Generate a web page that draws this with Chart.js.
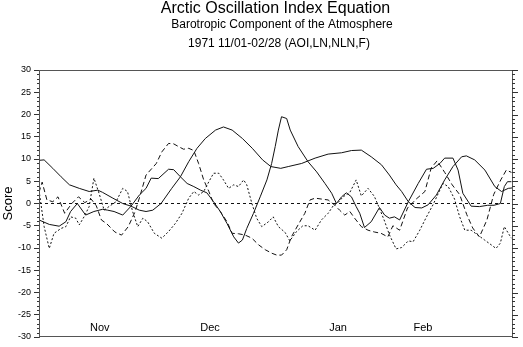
<!DOCTYPE html>
<html>
<head>
<meta charset="utf-8">
<script src="https://cdn.jsdelivr.net/npm/chart.js@4.4.0/dist/chart.umd.min.js"></script>
<style>
  html, body { margin: 0; padding: 0; background: #fff; }
  #chart { display: block; }
</style>
</head>
<body>
<canvas id="chart" width="523" height="347"></canvas>
<script>
// Day offsets from 11/01 and daily scores
const aoiDays = [0, 1.3, 3.5, 5.6, 7.7, 10.2, 12.7, 14.9, 16.1, 18.7, 21.2, 23.3, 25.4, 27.1, 28.8, 30.9, 33.6, 35.8, 37.9, 40.0, 42.1, 44.7, 46.7, 48.9, 51.5, 54.0, 56.6, 58.7, 61.2, 63.1, 66.5, 69.9, 73.2, 76.6, 79.1, 81.6, 84.1, 86.7, 88.7, 90.4, 91.8, 93.5, 95.2, 96.9, 98.5, 100.6, 102.7, 104.8, 107.0, 108.2, 110.3, 112.9, 115.4, 117.1, 118.8, 119.8];
const aoiVals = [9.7, 9.8, 7.9, 6.0, 4.2, 3.4, 2.7, 3.0, 2.5, 1.2, 0.0, -0.6, -1.5, -1.8, -1.5, 0.0, 3.4, 6.0, 9.4, 12.4, 14.6, 16.5, 17.2, 16.5, 14.6, 12.4, 9.8, 8.3, 7.9, 8.3, 9.0, 10.2, 11.1, 11.4, 11.9, 12.0, 10.5, 8.7, 6.4, 4.2, 2.7, 0.4, -0.9, -1.0, -0.3, 1.9, 5.3, 8.3, 10.5, 10.7, 9.8, 7.5, 3.8, 2.7, 3.4, 3.5];

const fDays = [0, 2.6, 5.1, 6.8, 8.0, 9.7, 11.8, 13.9, 16.1, 17.4, 19.0, 21.2, 23.3, 25.4, 27.1, 28.4, 30.2, 32.8, 34.1, 35.8, 37.5, 39.2, 40.9, 42.5, 44.2, 45.9, 47.6, 49.3, 50.5, 51.5, 52.6, 54.3, 56.0, 57.7, 58.9, 59.8, 60.6, 61.4, 62.7, 63.6, 65.6, 68.1, 70.3, 72.4, 74.1, 75.3, 76.6, 77.8, 79.1, 80.3, 81.2, 82.4, 84.1, 86.2, 87.5, 88.7, 90.0, 91.3, 93.5, 96.0, 98.1, 99.8, 101.5, 102.7, 104.8, 106.1, 107.3, 109.4, 111.5, 113.6, 115.2, 116.8, 117.8, 118.6, 119.6];
const fVals = [-3.7, -4.7, -5.1, -4.1, -1.8, 0.0, -2.6, -1.8, -1.3, -1.5, -1.8, -2.6, -0.6, 1.9, 3.4, 5.7, 5.6, 7.7, 7.6, 6.0, 4.5, 3.8, 3.0, 2.4, 0.4, -1.8, -4.5, -7.5, -8.9, -8.2, -5.6, -2.2, 1.5, 5.3, 9.0, 12.8, 16.5, 19.5, 19.1, 16.5, 12.8, 9.4, 7.1, 4.5, 2.3, 0.0, 1.5, 2.4, 1.5, -0.7, -2.2, -5.4, -4.1, -0.9, -2.6, -3.3, -3.0, -3.7, 0.4, 4.5, 7.7, 7.9, 9.0, 10.2, 10.2, 7.5, 2.3, -0.6, -0.7, -0.4, -0.4, 0.0, 3.8, 4.9, 4.9];

const lnDays = [0, 0.8, 2.0, 3.5, 4.8, 6.5, 8.3, 10.0, 11.6, 13.2, 14.5, 15.8, 17.1, 19.2, 20.9, 22.6, 24.3, 25.5, 27.1, 29.7, 31.1, 32.8, 34.1, 35.3, 36.6, 37.9, 39.2, 40.4, 41.7, 43.0, 44.2, 45.9, 47.6, 48.9, 50.5, 52.2, 53.9, 55.6, 57.3, 59.0, 60.2, 61.4, 62.7, 63.9, 65.6, 67.3, 68.6, 69.9, 71.5, 73.2, 74.9, 76.1, 77.4, 78.7, 79.9, 81.6, 83.3, 84.9, 86.6, 88.3, 89.6, 91.3, 93.3, 95.5, 97.7, 99.3, 100.8, 102.7, 104.6, 106.5, 108.3, 109.8, 111.5, 113.4, 115.1, 116.9, 118.3, 119.6];
const lnVals = [2.5, 4.8, 0.8, 0.4, 1.5, -2.2, 0.0, 1.5, 0.2, 1.0, -0.5, -3.7, -4.5, -6.4, -7.1, -5.2, -1.9, 1.5, 6.4, 9.0, 11.6, 13.5, 13.4, 12.8, 12.2, 12.4, 11.9, 9.0, 5.3, 2.7, 0.0, -1.8, -4.1, -6.7, -6.8, -7.1, -7.8, -9.3, -10.4, -11.2, -11.6, -11.6, -10.4, -7.5, -4.8, -2.2, 0.8, 1.2, 1.0, 0.8, -0.4, -1.5, -2.6, -1.8, -3.3, -5.2, -6.0, -6.4, -6.7, -7.5, -5.0, -6.0, -1.0, 1.0, 2.7, 8.0, 9.6, 7.0, 4.2, 2.0, -2.5, -5.5, -7.5, -3.7, 2.0, 5.3, 7.5, 7.0];

const nlnDays = [0, 1.3, 2.6, 3.8, 5.6, 6.8, 8.0, 9.3, 10.2, 11.4, 12.7, 13.9, 15.2, 16.5, 17.7, 19.5, 21.2, 22.4, 23.7, 25.0, 26.3, 27.5, 29.2, 31.1, 32.8, 34.5, 36.2, 37.9, 39.2, 40.4, 41.7, 43.0, 44.2, 45.5, 46.7, 48.0, 49.3, 50.5, 51.8, 52.6, 53.9, 55.1, 56.4, 58.1, 59.3, 60.6, 62.3, 63.5, 65.2, 66.8, 68.1, 69.9, 71.5, 73.2, 74.5, 75.7, 77.0, 78.7, 80.3, 81.6, 83.3, 84.9, 86.2, 87.5, 88.7, 90.4, 91.8, 93.5, 94.7, 96.4, 98.1, 99.8, 101.1, 102.3, 103.6, 105.2, 106.5, 107.8, 109.4, 111.1, 112.8, 114.5, 115.7, 116.8, 117.8, 119.1, 119.6];
const nlnVals = [3.0, -5.2, -10.1, -6.7, -5.6, -5.2, -3.0, -3.3, -4.8, -3.0, -0.7, 5.7, 2.3, -1.5, -0.7, 0.4, 3.4, 2.7, -1.8, -5.2, -3.3, -4.1, -6.7, -7.8, -6.3, -4.5, -2.2, 1.2, 2.7, 1.9, 2.7, 4.9, 6.8, 6.8, 5.3, 3.4, 4.2, 3.8, 5.3, 4.2, 0.0, -3.3, -5.2, -4.1, -3.0, -5.2, -6.5, -8.4, -6.3, -5.0, -5.0, -6.0, -3.7, -2.2, -0.5, 0.2, 1.5, 2.5, 5.3, 1.7, 3.4, 1.6, -1.1, -4.0, -7.0, -10.2, -9.9, -8.4, -8.6, -6.0, -3.0, -0.2, 2.3, 4.5, 3.8, 1.0, -3.0, -6.0, -6.0, -7.1, -8.2, -9.3, -10.1, -8.9, -5.2, -7.1, -7.8];

const zeroDays = [0, 120];
const zeroVals = [0, 0];

const monthNames = ['Nov', 'Dec', 'Jan', 'Feb'];
const monthDays = [15.4, 43.3, 75.7, 97.2];

const FONT = '"Liberation Sans", Arial, Helvetica, sans-serif';

function toPoints(days, vals) {
  const n = Math.min(days.length, vals.length);
  const pts = [];
  for (let i = 0; i < n; i++) pts.push({ x: days[i], y: vals[i] });
  return pts;
}

function lineSet(label, days, vals, dash) {
  return {
    label: label,
    data: toPoints(days, vals),
    borderColor: '#111',
    borderWidth: 1,
    borderDash: dash,
    pointRadius: 0,
    tension: 0,
    fill: false
  };
}

// frame, minor ticks, right-side ticks, titles and month labels
const decorPlugin = {
  id: 'decor',
  afterDraw(chart) {
    const ctx = chart.ctx;
    const a = chart.chartArea;
    const y = chart.scales.y;
    ctx.save();
    ctx.strokeStyle = '#555';
    ctx.lineWidth = 1;
    ctx.strokeRect(a.left + 0.5, a.top + 0.5, a.right - a.left - 1, a.bottom - a.top - 1);

    ctx.strokeStyle = '#333';
    ctx.beginPath();
    for (let v = -30; v <= 30; v++) {
      const py = Math.round(y.getPixelForValue(v)) + 0.5;
      const major = v % 5 === 0;
      if (!major) {
        ctx.moveTo(a.left - 2, py); ctx.lineTo(a.left, py);
      }
      ctx.moveTo(a.right - 1, py); ctx.lineTo(a.right + (major ? 5 : 2), py);
    }
    ctx.stroke();

    ctx.fillStyle = '#000';
    ctx.textAlign = 'center';
    ctx.textBaseline = 'middle';
    ctx.font = '16px ' + FONT;
    ctx.fillText('Arctic Oscillation Index Equation', 275.5, 9);
    ctx.font = '12px ' + FONT;
    ctx.fillText('Barotropic Component of the Atmosphere', 282, 25);
    ctx.fillText('1971 11/01-02/28 (AOI,LN,NLN,F)', 279, 44);

    ctx.font = '11px ' + FONT;
    const x = chart.scales.x;
    monthNames.forEach((m, i) => {
      ctx.fillText(m, x.getPixelForValue(monthDays[i]), a.bottom - 9);
    });

    ctx.save();
    ctx.translate(8, (a.top + a.bottom) / 2);
    ctx.rotate(-Math.PI / 2);
    ctx.font = '13px ' + FONT;
    ctx.fillText('Score', 0, 0);
    ctx.restore();
    ctx.restore();
  }
};

new Chart(document.getElementById('chart'), {
  type: 'line',
  data: {
    datasets: [
      lineSet('zero', zeroDays, zeroVals, [3, 3]),
      lineSet('AOI', aoiDays, aoiVals, []),
      lineSet('F', fDays, fVals, []),
      lineSet('LN', lnDays, lnVals, [5, 3]),
      lineSet('NLN', nlnDays, nlnVals, [2, 2])
    ]
  },
  options: {
    responsive: false,
    animation: false,
    devicePixelRatio: 1,
    layout: { padding: { left: 10, right: 10, top: 70, bottom: 10 } },
    plugins: { legend: { display: false }, tooltip: { enabled: false } },
    scales: {
      x: { type: 'linear', min: 0, max: 120, display: false },
      y: {
        type: 'linear',
        position: 'left',
        min: -30,
        max: 30,
        afterFit: (s) => { s.width = 29; },
        ticks: { stepSize: 5, padding: 3, color: '#000', font: { size: 9, family: FONT } },
        grid: { drawOnChartArea: false, tickLength: 5, color: '#333' },
        border: { color: '#555' }
      }
    }
  },
  plugins: [decorPlugin]
});
</script>
</body>
</html>
